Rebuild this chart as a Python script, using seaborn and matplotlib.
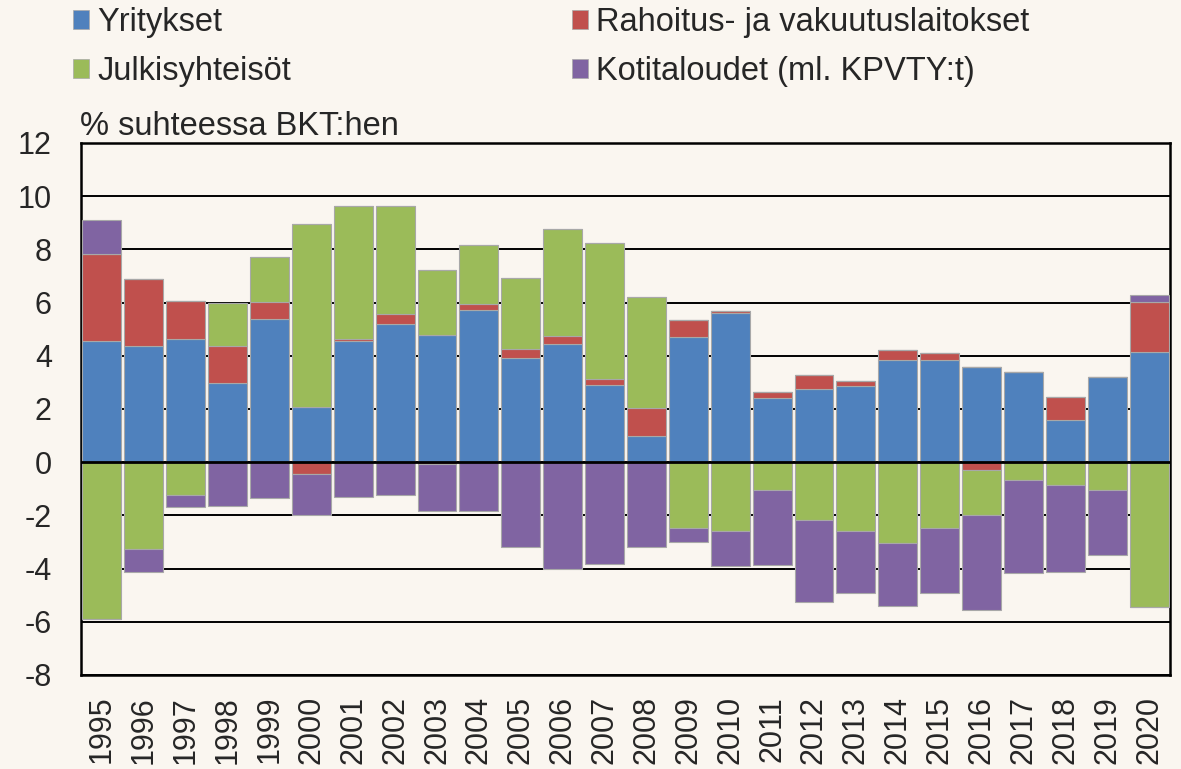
import matplotlib
matplotlib.use("Agg")
import matplotlib.pyplot as plt
import seaborn as sns
import numpy as np
from matplotlib.patches import Patch

years = [str(y) for y in range(1995, 2021)]

# % suhteessa BKT:hen
yritykset = [4.54, 4.35, 4.65, 2.98, 5.39, 2.09, 4.54, 5.20, 4.80, 5.74, 3.93, 4.44, 2.91,
             0.99, 4.72, 5.60, 2.42, 2.76, 2.87, 3.83, 3.86, 3.57, 3.40, 1.58, 3.20, 4.14]
rahoitus = [3.29, 2.52, 1.40, 1.37, 0.63, -0.44, 0.11, 0.38, -0.05, 0.20, 0.34, 0.32, 0.22,
            1.04, 0.63, 0.09, 0.22, 0.52, 0.19, 0.37, 0.23, -0.30, 0.0, 0.88, 0.0, 1.88]
julkisyhteisot = [-5.91, -3.26, -1.23, 1.64, 1.70, 6.88, 4.99, 4.06, 2.43, 2.23, 2.67, 4.00, 5.10,
                  4.19, -2.48, -2.57, -1.05, -2.19, -2.57, -3.02, -2.46, -1.68, -0.68, -0.86, -1.05, -5.45]
kotitaloudet = [1.26, -0.85, -0.44, -1.63, -1.34, -1.56, -1.30, -1.23, -1.80, -1.85, -3.20, -4.00, -3.81,
                -3.20, -0.53, -1.35, -2.80, -3.07, -2.35, -2.39, -2.44, -3.58, -3.47, -3.26, -2.43, 0.26]

series_names = ["Yritykset", "Rahoitus- ja vakuutuslaitokset", "Julkisyhteisöt", "Kotitaloudet (ml. KPVTY:t)"]
series_values = [yritykset, rahoitus, julkisyhteisot, kotitaloudet]
colors = ["#4F81BD", "#C0504D", "#9BBB59", "#8064A2"]
bg = "#FAF6F0"

sns.set_style("white")
plt.rcParams["font.family"] = ["Liberation Sans", "DejaVu Sans"]
plt.rcParams["font.size"] = 22

fig = plt.figure(figsize=(11.81, 7.69), dpi=100, facecolor=bg)
ax = fig.add_axes([81 / 1181, 94 / 769, (1170 - 81) / 1181, (675 - 143) / 769])
ax.set_facecolor(bg)

# positive and negative parts stack separately from zero
pos_bottom = np.zeros(len(years))
neg_bottom = np.zeros(len(years))
for name, vals, col in zip(series_names, series_values, colors):
    vals = np.array(vals)
    pos = np.clip(vals, 0, None)
    neg = np.clip(vals, None, 0)
    for part, base in ((pos, pos_bottom), (neg, neg_bottom)):
        sns.barplot(x=years, y=part, order=years, bottom=base.copy(), color=col, saturation=1,
                    width=0.93, errorbar=None, edgecolor="#A8A8A8", linewidth=0.8, zorder=3, ax=ax)
    pos_bottom += pos
    neg_bottom += neg

ax.set_ylim(-8, 12)
ax.set_xlim(-0.5, len(years) - 0.5)
ax.set_yticks(np.arange(-8, 13, 2))
ax.set_yticklabels([str(v) for v in range(-8, 13, 2)])
ax.yaxis.grid(True, color="black", linewidth=1.4)
ax.set_axisbelow(True)
ax.axhline(0, color="black", linewidth=2, zorder=6)
for s in ax.spines.values():
    s.set_color("black")
    s.set_linewidth(1.8)
    s.set_visible(True)
ax.tick_params(axis="y", length=0, pad=21, labelsize=22)
ax.tick_params(axis="x", length=0, pad=15, labelsize=22, rotation=90)
ax.set_xlabel("")
ax.set_ylabel("")

fig.text(80 / 1181, 1 - 135 / 769, "% suhteessa BKT:hen", fontsize=23.5, va="baseline", ha="left")

order = [0, 2, 1, 3]
handles = [Patch(facecolor=colors[i], edgecolor="#A8A8A8", linewidth=0.5) for i in order]
labels = [series_names[i] for i in order]
fig.legend(handles, labels, ncol=2, loc="upper left", bbox_to_anchor=(73 / 1181, 1 - 7 / 769),
           frameon=False, fontsize=23.5, handlelength=0.5, handleheight=0.5, handletextpad=0.25,
           columnspacing=8.6, labelspacing=0.55, borderpad=0, borderaxespad=0)

fig.savefig("out.png", dpi=100, facecolor=bg)
